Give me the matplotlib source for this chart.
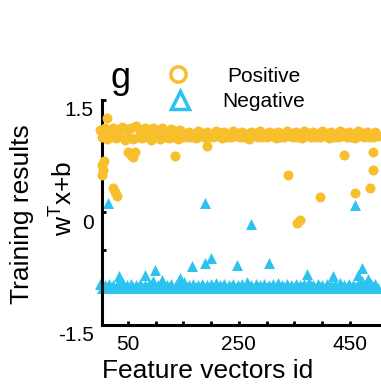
import numpy as np
import matplotlib
matplotlib.use("Agg")
import matplotlib.pyplot as plt
import matplotlib.transforms as mtransforms

# feature vector ids for the two bands (one sample every 4 ids)
band_ids = np.arange(0, 504, 4)

# w^T x + b for the positive samples that sit on the +1 band
pos_band = [
    1.10, 1.00, 1.12, 0.98, 1.09, 1.01, 1.13, 0.99, 1.10, 1.02,
    1.14, 0.97, 1.11, 1.00, 1.12, 0.98, 1.15, 1.01, 1.10, 0.99,
    1.13, 1.00, 1.09, 0.97, 1.12, 1.01, 1.10, 0.98, 1.13, 1.00,
    1.09, 0.99, 1.11, 1.01, 1.08, 0.98, 1.10, 1.00,
    1.06, 1.00, 1.07, 1.01, 1.05, 0.99, 1.08, 1.02, 1.06, 1.00,
    1.07, 1.01, 1.05, 1.00, 1.08, 1.02, 1.06, 0.99, 1.07, 1.01,
    1.05, 1.00, 1.09, 1.02, 1.06, 1.00, 1.07, 1.01, 1.05, 0.98,
    1.07, 1.02, 1.06, 1.00, 1.08, 1.01, 1.05, 1.00, 1.07, 1.02,
    1.06, 0.99, 1.07, 1.01, 1.05, 1.00, 1.08, 1.02, 1.06, 1.00,
    1.07, 1.01, 1.05, 0.99, 1.09, 1.02, 1.06, 1.00, 1.07, 1.01,
    1.05, 1.00, 1.08, 1.02, 1.06, 0.99, 1.07, 1.01, 1.05, 1.00,
    1.08, 1.02, 1.06, 1.00, 1.07, 1.01, 1.05, 0.99, 1.08, 1.02,
    1.06, 1.00, 1.07, 1.01, 1.05, 1.00, 1.07, 1.02,
]

# w^T x + b for the negative samples that sit on the -1 band
neg_band = [
    -0.96, -1.01, -0.97, -1.00, -0.95, -1.01, -0.97, -1.00, -0.96, -1.01,
    -0.93, -1.00, -0.97, -1.01, -0.96, -1.00, -0.97, -1.01, -0.95, -1.00,
    -0.97, -1.01, -0.96, -1.00, -0.92, -1.01, -0.97, -1.00, -0.96, -1.01,
    -0.97, -1.00, -0.95, -1.01, -0.97, -1.00, -0.96, -1.01, -0.93, -1.00,
    -0.97, -1.01, -0.96, -1.00, -0.97, -1.01, -0.95, -1.00, -0.97, -1.01,
    -0.96, -1.00, -0.94, -1.01, -0.97, -1.00, -0.96, -1.01, -0.97, -1.00,
    -0.95, -1.01, -0.97, -1.00, -0.96, -1.01, -0.93, -1.00, -0.97, -1.01,
    -0.96, -1.00, -0.97, -1.01, -0.95, -1.00, -0.97, -1.01, -0.96, -1.00,
    -0.94, -1.01, -0.97, -1.00, -0.96, -1.01, -0.97, -1.00, -0.95, -1.01,
    -0.97, -1.00, -0.96, -1.01, -0.93, -1.00, -0.97, -1.01, -0.96, -1.00,
    -0.97, -1.01, -0.95, -1.00, -0.97, -1.01, -0.96, -1.00, -0.94, -1.01,
    -0.97, -1.00, -0.96, -1.01, -0.97, -1.00, -0.95, -1.01, -0.92, -1.00,
    -0.97, -1.01, -0.96, -1.00, -0.95, -1.01,
]

# samples that fall away from their band
pos_out_ids = [12, 50, 55, 59, 63, 135, 192, 3, 6, 4, 7, 23, 27, 31,
               339, 355, 360, 396, 439, 459, 486, 492, 492]
pos_out_val = [1.26, 0.80, 0.76, 0.74, 0.81, 0.75, 0.88, 0.63, 0.57, 0.50, 0.68,
               0.33, 0.27, 0.22, 0.50, -0.14, -0.10, 0.21, 0.77, 0.26, 0.33,
               0.57, 0.80]
neg_out_ids = [15, 189, 271, 459, 34, 81, 99, 111, 144, 165, 189, 199,
               246, 304, 373, 420, 465, 472, 483]
neg_out_val = [0.12, 0.12, -0.16, 0.10, -0.85, -0.83, -0.77, -0.90, -0.88,
               -0.72, -0.67, -0.61, -0.70, -0.67, -0.82, -0.85, -0.83, -0.74,
               -0.89]

YELLOW = "#F8BF2C"
BLUE = "#2CC3F0"

plt.rcParams["font.family"] = ["Liberation Sans", "DejaVu Sans"]

fig = plt.figure(figsize=(3.81, 3.84), dpi=100)
ax = fig.add_axes([0.268, 0.154, 0.732, 0.586])

ax.scatter(band_ids, neg_band, s=62, marker="^", color=BLUE, linewidths=0, clip_on=False, zorder=2)
ax.scatter(neg_out_ids, neg_out_val, s=62, marker="^", color=BLUE, linewidths=0, clip_on=False, zorder=2)
ax.scatter(band_ids, pos_band, s=52, marker="o", color=YELLOW, linewidths=0, clip_on=False, zorder=3)
ax.scatter(pos_out_ids, pos_out_val, s=52, marker="o", color=YELLOW, linewidths=0, clip_on=False, zorder=3)

ax.set_xlim(3.6, 506)
ax.set_ylim(-1.5, 1.5)

ax.spines["top"].set_visible(False)
ax.spines["right"].set_visible(False)
ax.spines["left"].set_linewidth(2.2)
ax.spines["bottom"].set_linewidth(2.2)

ax.set_xticks(np.arange(50, 451, 50))
ax.set_xticklabels(["50", "", "", "", "250", "", "", "", "450"])
ax.set_yticks([-1.5, -1.0, -0.5, 0, 0.5, 1.0, 1.5])
ax.set_yticklabels(["-1.5", "", "", "0", "", "", "1.5"])
ax.tick_params(direction="in", length=3, width=2, labelsize=15)
ax.tick_params(axis="x", pad=7)
ax.tick_params(axis="y", pad=6)

# y tick labels sit a little below their ticks
shift = mtransforms.ScaledTranslation(0, -0.09, fig.dpi_scale_trans)
for lab in ax.get_yticklabels():
    lab.set_transform(lab.get_transform() + shift)

fig.text(0.545, 0.035, "Feature vectors id", ha="center", va="center", fontsize=19)
fig.text(0.058, 0.443, "Training results", ha="center", va="center", rotation=90, fontsize=19)
fig.text(0.165, 0.484, r"w$^\mathregular{T}$x+b", ha="center", va="center", rotation=90, fontsize=19)
fig.text(0.289, 0.771, "g", ha="left", va="baseline", fontsize=26)

# legend
fig.lines.append(plt.Line2D([178 / 381], [1 - 74 / 384], transform=fig.transFigure, marker="o",
                            markersize=11, markerfacecolor="none", markeredgecolor=YELLOW,
                            markeredgewidth=2.5, linestyle="none"))
fig.lines.append(plt.Line2D([180 / 381], [1 - 100 / 384], transform=fig.transFigure, marker="^",
                            markersize=13, markerfacecolor="none", markeredgecolor=BLUE,
                            markeredgewidth=2.5, linestyle="none"))
fig.text(264 / 381, 1 - 82 / 384, "Positive", ha="center", va="baseline", fontsize=15)
fig.text(264 / 381, 1 - 107 / 384, "Negative", ha="center", va="baseline", fontsize=15)

fig.savefig("out.png", dpi=100)
